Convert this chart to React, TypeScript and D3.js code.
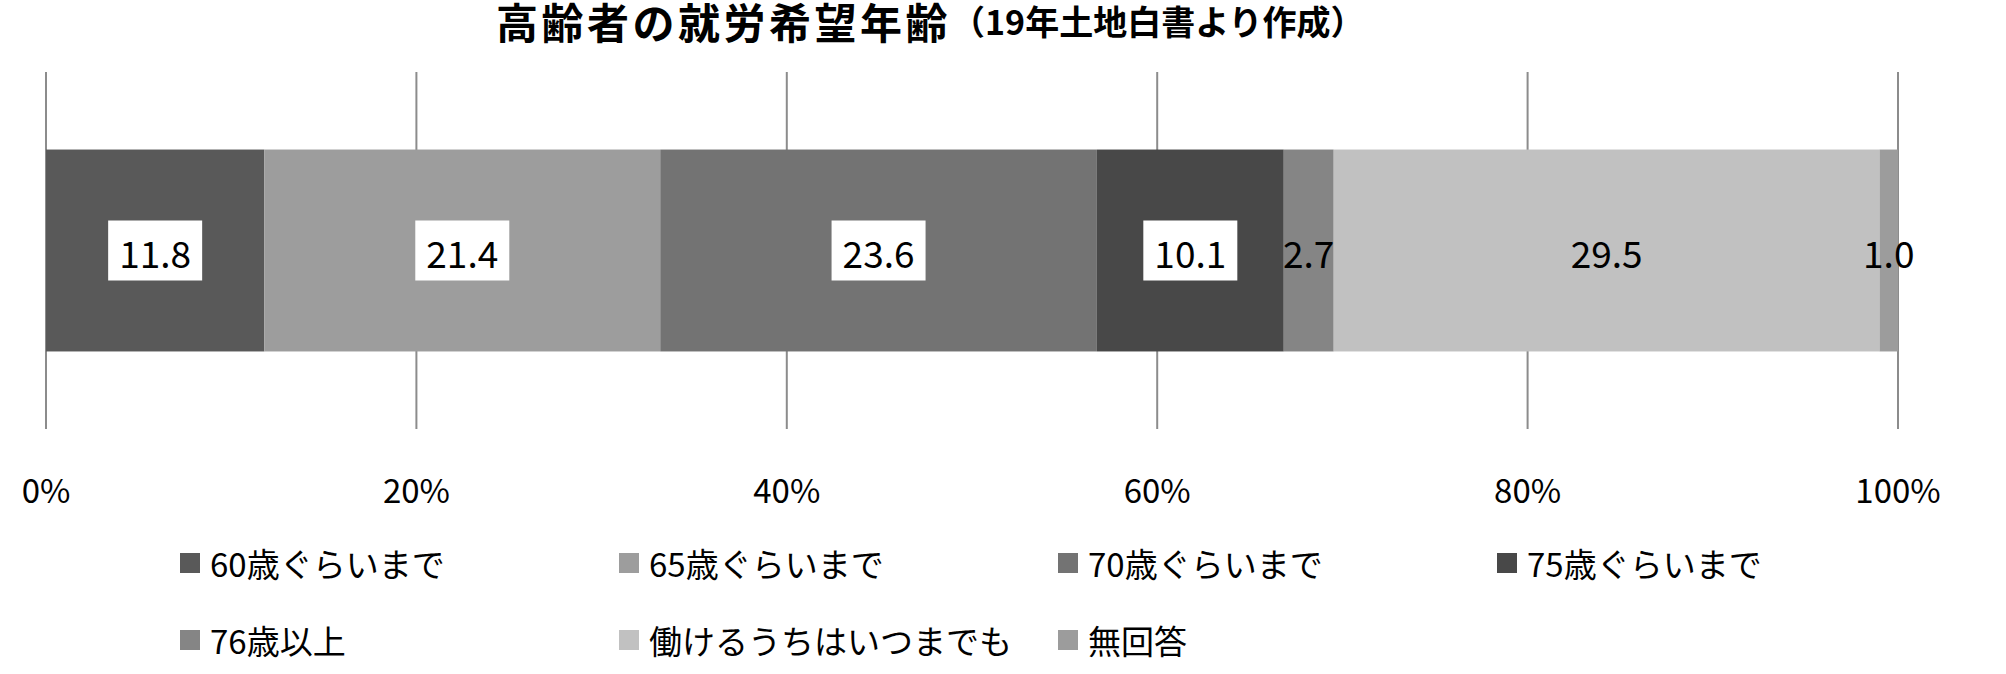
import React from "react";
import * as d3 from "d3";

const categories = [
  "60歳ぐらいまで",
  "65歳ぐらいまで",
  "70歳ぐらいまで",
  "75歳ぐらいまで",
  "76歳以上",
  "働けるうちはいつまでも",
  "無回答",
];
const values = [11.8, 21.4, 23.6, 10.1, 2.7, 29.5, 1.0];
const boxed = [true, true, true, true, false, false, false];
const colors = ["#595959", "#9d9d9d", "#737373", "#484848", "#858585", "#c1c1c1", "#9c9c9c"];
const tickValues = [0, 0.2, 0.4, 0.6, 0.8, 1.0];
const titleMain = "高齢者の就労希望年齢";
const titleSub = "（19年土地白書より作成）";

const W = 2006;
const H = 674;
const FONT = "'Noto Sans CJK JP', 'Noto Sans', sans-serif";

export default function App() {
  const total = d3.sum(values);
  const x = d3.scaleLinear().domain([0, 1]).range([46, 1898]);
  const y = d3.scaleBand().domain(["bar"]).range([72, 429]).paddingInner(0).paddingOuter(0.384);
  const cum = d3.cumsum(values);
  const segs = values.map((v, i) => ({
    v,
    x0: (cum[i] - v) / total,
    x1: cum[i] / total,
    color: colors[i],
    boxed: boxed[i],
  }));
  const barY = y("bar")!;
  const barH = y.bandwidth();
  const barCY = barY + barH / 2;
  const fmt = d3.format(".1f");

  const legendCols = 4;
  const legendX0 = 180;
  const legendColW = 439;
  const legendY0 = 563;
  const legendRowH = 77;

  return (
    <svg
      width={W}
      height={H}
      style={{ position: "absolute", left: 0, top: 0, background: "#fff" }}
      fontFamily={FONT}
    >
      <rect x={0} y={0} width={W} height={H} fill="#fff" />
      <text x={496} y={20} dominantBaseline="central" fontWeight="bold" fill="#000">
        <tspan fontSize={42} letterSpacing={3.5}>{titleMain}</tspan>
        <tspan fontSize={34} letterSpacing={0}>{titleSub}</tspan>
      </text>
      {tickValues.map((t) => (
        <line key={"g" + t} x1={x(t)} x2={x(t)} y1={72} y2={429} stroke="#8c8c8c" strokeWidth={2} />
      ))}
      {segs.map((s, i) => (
        <rect key={"r" + i} x={x(s.x0)} y={barY} width={x(s.x1) - x(s.x0)} height={barH} fill={s.color} />
      ))}
      {segs.map((s, i) => {
        const cx = (x(s.x0) + x(s.x1)) / 2;
        const label = fmt(s.v);
        const bw = label.length * 20 + 14;
        return (
          <g key={"l" + i}>
            {s.boxed && <rect x={cx - bw / 2} y={barCY - 30} width={bw} height={60} fill="#fff" />}
            <text x={cx} y={barCY + 1} textAnchor="middle" dominantBaseline="central" fontSize={37} fill="#000">
              {label}
            </text>
          </g>
        );
      })}
      {tickValues.map((t) => (
        <text key={"t" + t} x={x(t)} y={489} textAnchor="middle" dominantBaseline="central" fontSize={33} fill="#000">
          {d3.format(".0%")(t)}
        </text>
      ))}
      {categories.map((c, i) => {
        const col = i % legendCols;
        const row = Math.floor(i / legendCols);
        const lx = legendX0 + col * legendColW;
        const ly = legendY0 + row * legendRowH;
        return (
          <g key={"lg" + i}>
            <rect x={lx} y={ly - 10} width={20} height={20} fill={colors[i]} />
            <text x={lx + 30} y={ly} dominantBaseline="central" fontSize={33} fill="#000">
              {c}
            </text>
          </g>
        );
      })}
    </svg>
  );
}
